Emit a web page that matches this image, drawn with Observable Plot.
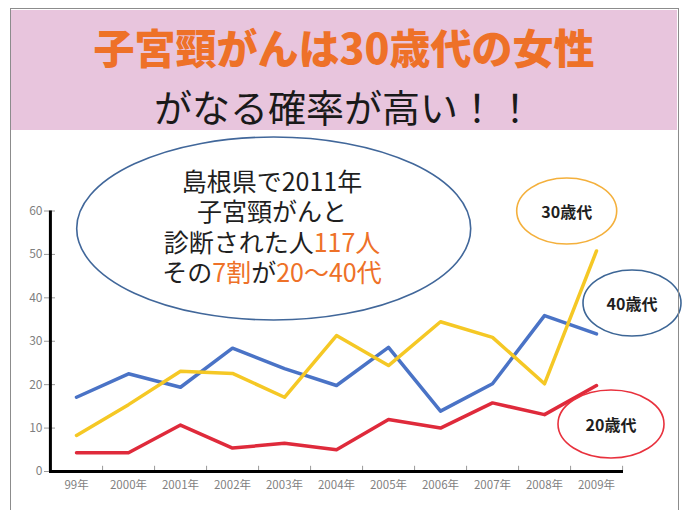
<!DOCTYPE html>
<html>
<head>
<meta charset="utf-8">
<script src="https://cdn.jsdelivr.net/npm/d3@7"></script>
<script src="https://cdn.jsdelivr.net/npm/@observablehq/plot@0.6"></script>
<style>
html,body{margin:0;padding:0;background:#fff;width:688px;height:510px;overflow:hidden;font-family:"Noto Sans CJK JP","Noto Sans",sans-serif;}
#page{position:relative;width:688px;height:510px;overflow:hidden;}
#header{position:absolute;left:11px;top:10px;width:666px;height:120px;background:#e8c5dd;}
#t1{position:absolute;left:0;right:0;top:16px;line-height:41px;text-align:center;color:#ee7128;font-weight:900;font-size:41px;letter-spacing:0px;}
#t2{position:absolute;left:0;right:0;top:77px;line-height:38px;text-align:center;color:#1a1a1a;font-weight:400;font-size:38px;}
#chart{position:absolute;left:0;top:130px;}
#frame{position:absolute;left:10px;top:8px;width:669px;height:520px;border:1px solid #8c8c8c;box-sizing:border-box;pointer-events:none;z-index:5;}
</style>
</head>
<body>
<div id="page">
  <div id="header">
    <div id="t1">子宮頸がんは30歳代の女性</div>
    <div id="t2">がなる確率が高い！！</div>
  </div>
  <div id="chart"></div>
  <div id="frame"></div>
</div>
<script>
// ---- data ----
const years = ["99年","2000年","2001年","2002年","2003年","2004年","2005年","2006年","2007年","2008年","2009年"];
const age40 = [17.1, 22.5, 19.4, 28.4, 23.7, 19.8, 28.6, 13.9, 20.2, 35.9, 31.7];
const age30 = [8.3, 15.4, 23.1, 22.6, 17.1, 31.3, 24.4, 34.5, 30.9, 20.2, 50.8];
const age20 = [4.3, 4.3, 10.7, 5.4, 6.5, 5.0, 12.0, 10.0, 15.8, 13.1, 19.8];
const groups = ["40歳代","30歳代","20歳代"];
const lineColors = ["#4a73c6","#f5c825","#df2a3b"];
const yTicks = [0,10,20,30,40,50,60];

const series = [age40, age30, age20];
const rows = [];
series.forEach((vals, gi) => vals.forEach((v, i) => rows.push({year: years[i], value: v, group: groups[gi]})));

const W = 688, H = 380;
const mL = 49, mR = 65, mT = 80.5, mB = 39;
const step = (W - mL - mR) / years.length;

const chart = Plot.plot({
  width: W, height: H,
  marginTop: mT, marginBottom: mB, marginLeft: mL, marginRight: mR,
  style: {background: "transparent", fontFamily: '"Noto Sans CJK JP","Noto Sans",sans-serif', fontSize: "12px", overflow: "visible"},
  x: {type: "point", domain: years, padding: 0.5, label: null},
  y: {domain: [0, 60], label: null},
  color: {domain: groups, range: lineColors},
  marks: [
    Plot.ruleX(years, {x: d => d, dx: step / 2, y1: 0, y2: 1.2, stroke: "#9a9a9a", strokeWidth: 1}),
    Plot.axisX({tickSize: 0, tickPadding: 9, fill: "#7f7f7f", fontSize: 11.5, label: null}),
    Plot.axisY({ticks: yTicks, tickSize: 5, tickPadding: 2, stroke: "#9a9a9a", fill: "#7f7f7f", fontSize: 12, label: null}),
    Plot.axisY({ticks: yTicks, tickSize: 6, dx: 6, tickFormat: () => "", stroke: "#9a9a9a", label: null}),
    ...groups.map(g => Plot.line(rows.filter(r => r.group === g), {x: "year", y: "value", stroke: "group", strokeWidth: 3.5, strokeLinejoin: "round"})),
    Plot.ruleY([0], {stroke: "#000", strokeWidth: 3}),
    Plot.ruleX([years[0]], {dx: -step / 2, y1: 0, y2: 60, stroke: "#000", strokeWidth: 3})
  ]
});
document.getElementById("chart").appendChild(chart);

// ---- annotations ----
const svg = d3.select(chart);
const g = svg.append("g");
const off = 130;
g.append("ellipse").attr("cx", 273.7).attr("cy", 228.5 - off).attr("rx", 197).attr("ry", 91.5)
  .attr("fill", "none").attr("stroke", "#41679a").attr("stroke-width", 1.6);

const noteLines = [
  [["島根県で2011年", "#1f1f1f"]],
  [["子宮頸がんと", "#1f1f1f"]],
  [["診断された人", "#1f1f1f"], ["117人", "#ee7128"]],
  [["その", "#1f1f1f"], ["7割", "#ee7128"], ["が", "#1f1f1f"], ["20〜40代", "#ee7128"]]
];
const noteY = [182, 212, 243, 273];
noteLines.forEach((parts, i) => {
  const t = g.append("text").attr("x", 272).attr("y", noteY[i] - off).attr("dy", "0.36em")
    .attr("text-anchor", "middle").attr("font-size", 25).attr("font-family", '"Noto Sans CJK JP",sans-serif');
  parts.forEach(([s, c]) => t.append("tspan").attr("fill", c).text(s));
});

const legendItems = [
  {label: "30歳代", cx: 566.7, cy: 211, rx: 50, ry: 33, color: "#f4b03c"},
  {label: "40歳代", cx: 632, cy: 303, rx: 49, ry: 33, color: "#3d6696"},
  {label: "20歳代", cx: 611, cy: 424, rx: 53, ry: 34, color: "#e8313d"}
];
legendItems.forEach(d => {
  g.append("ellipse").attr("cx", d.cx).attr("cy", d.cy - off).attr("rx", d.rx).attr("ry", d.ry)
    .attr("fill", "none").attr("stroke", d.color).attr("stroke-width", 1.6);
  g.append("text").attr("x", d.cx).attr("y", d.cy - off + 1).attr("dy", "0.36em").attr("text-anchor", "middle")
    .attr("font-size", 16).attr("font-weight", 700).attr("fill", "#1f1f1f")
    .attr("font-family", '"Noto Sans CJK JP",sans-serif').text(d.label);
});
</script>
</body>
</html>
